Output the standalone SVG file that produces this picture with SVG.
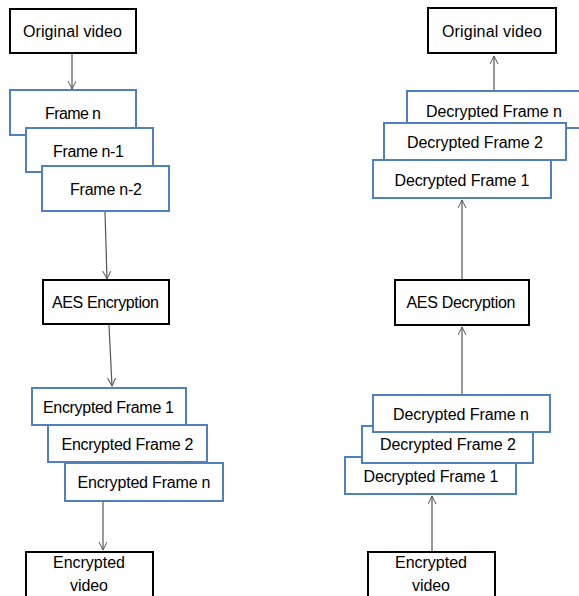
<svg xmlns="http://www.w3.org/2000/svg" width="579" height="596" viewBox="0 0 579 596">
<style>
.bk{fill:#fff;stroke:#000;stroke-width:2}
.bl{fill:#fff;stroke:#4F81BD;stroke-width:2}
text{font-family:"Liberation Sans",Arial,sans-serif;font-size:16px;fill:#000;text-anchor:middle}
.c{stroke:#555;stroke-width:1.2;fill:none}
</style>
<defs>
<marker id="ah" markerUnits="userSpaceOnUse" markerWidth="10" markerHeight="10" refX="8" refY="4" orient="auto">
<path d="M0,0 L8,4 L0,8" fill="none" stroke="#555" stroke-width="1"/>
</marker>
</defs>
<rect width="579" height="596" fill="#fff"/>
<g id="connectors">
<line class="c" x1="72" y1="54" x2="72" y2="89" marker-end="url(#ah)"/>
<line class="c" x1="105" y1="212" x2="107" y2="279" marker-end="url(#ah)"/>
<line class="c" x1="109" y1="325" x2="112" y2="386" marker-end="url(#ah)"/>
<line class="c" x1="103" y1="502" x2="103" y2="550" marker-end="url(#ah)"/>
<line class="c" x1="494" y1="90" x2="494" y2="56" marker-end="url(#ah)"/>
<line class="c" x1="462" y1="279" x2="462" y2="200" marker-end="url(#ah)"/>
<line class="c" x1="462" y1="394" x2="462" y2="327" marker-end="url(#ah)"/>
<line class="c" x1="432" y1="551" x2="432" y2="496" marker-end="url(#ah)"/>
</g>
<g id="orig-left"><rect class="bk" x="10" y="9" width="126" height="44"/><text x="72.5" y="37" textLength="99">Original video</text></g>
<g id="frame-n"><rect class="bl" x="10" y="90" width="126" height="45"/><text x="73" y="119" textLength="56">Frame n</text></g>
<g id="frame-n1"><rect class="bl" x="26" y="128" width="127" height="44"/><text x="88.5" y="157" textLength="71">Frame n-1</text></g>
<g id="frame-n2"><rect class="bl" x="42" y="166" width="127" height="45"/><text x="106" y="195" textLength="72">Frame n-2</text></g>
<g id="aes-enc"><rect class="bk" x="43" y="280" width="126" height="44"/><text x="105.5" y="308" textLength="107">AES Encryption</text></g>
<g id="enc-f1"><rect class="bl" x="32" y="388" width="154" height="37"/><text x="108.5" y="413" textLength="131">Encrypted Frame 1</text></g>
<g id="enc-f2"><rect class="bl" x="48" y="425" width="159" height="37"/><text x="127.5" y="450" textLength="132">Encrypted Frame 2</text></g>
<g id="enc-fn"><rect class="bl" x="65" y="463" width="158" height="38"/><text x="144" y="488" textLength="133">Encrypted Frame n</text></g>
<g id="enc-video-left"><rect class="bk" x="26" y="552" width="127" height="50"/><text x="89" y="568" textLength="72">Encrypted</text><text x="89" y="591" textLength="38">video</text></g>
<g id="orig-right"><rect class="bk" x="428" y="8" width="128" height="45"/><text x="492" y="37" textLength="100">Original video</text></g>
<g id="dec-top-fn"><rect class="bl" x="407" y="91" width="185" height="37"/><text x="494" y="117" textLength="136">Decrypted Frame n</text></g>
<g id="dec-top-f2"><rect class="bl" x="384" y="123" width="182" height="37"/><text x="475" y="148" textLength="136">Decrypted Frame 2</text></g>
<g id="dec-top-f1"><rect class="bl" x="373" y="160" width="178" height="38"/><text x="462" y="186" textLength="135">Decrypted Frame 1</text></g>
<g id="aes-dec"><rect class="bk" x="395" y="280" width="134" height="45"/><text x="461" y="308" textLength="109">AES Decryption</text></g>
<g id="dec-bot-f1"><rect class="bl" x="345" y="457" width="171" height="37"/><text x="431" y="482" textLength="135">Decrypted Frame 1</text></g>
<g id="dec-bot-f2"><rect class="bl" x="362" y="426" width="171" height="37"/><text x="448" y="450" textLength="136">Decrypted Frame 2</text></g>
<g id="dec-bot-fn"><rect class="bl" x="373" y="395" width="177" height="37"/><text x="461" y="420" textLength="136">Decrypted Frame n</text></g>
<g id="enc-video-right"><rect class="bk" x="368" y="552" width="127" height="50"/><text x="431" y="568" textLength="72">Encrypted</text><text x="431" y="591" textLength="38">video</text></g>
</svg>
